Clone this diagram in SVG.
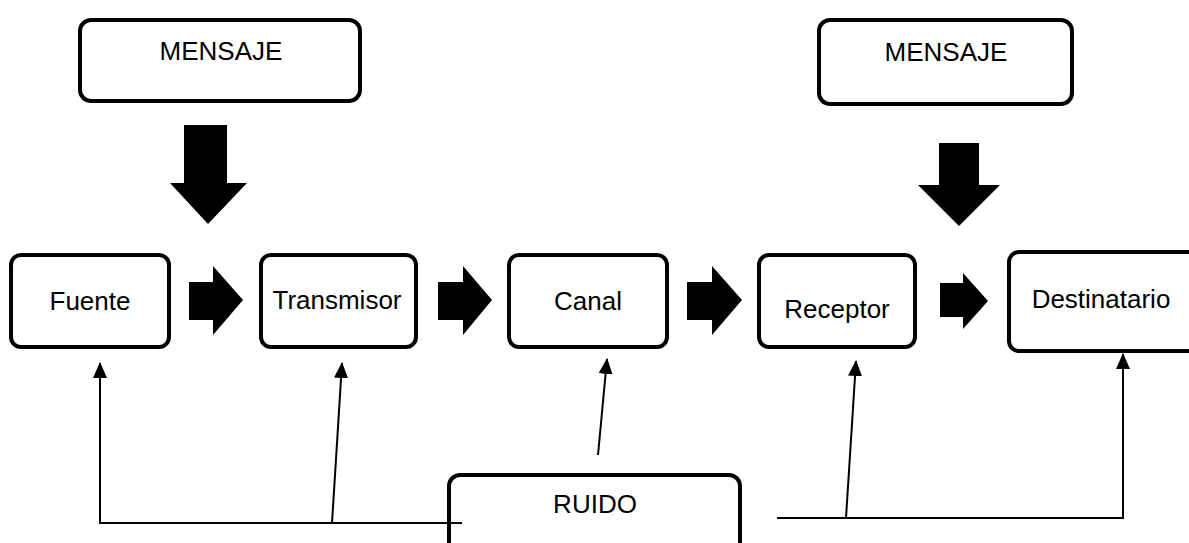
<svg xmlns="http://www.w3.org/2000/svg" width="1189" height="543" viewBox="0 0 1189 543">
<style>
.box{fill:#fff;stroke:#000;stroke-width:4}
.lbl{font-family:"Liberation Sans",Arial,sans-serif;font-size:26px;fill:#000;text-anchor:middle}
.blk{fill:#000;stroke:none}
.ln{fill:none;stroke:#000;stroke-width:2}
</style>
<defs>
<marker id="ah" viewBox="0 0 16 14" refX="15" refY="7" markerWidth="16" markerHeight="14" markerUnits="userSpaceOnUse" orient="auto">
<path d="M0,0 L16,7 L0,14 Z" fill="#000"/>
</marker>
</defs>
<rect width="1189" height="543" fill="#fff"/>
<g id="mensaje1"><rect class="box" x="80" y="20" width="280" height="81" rx="11"/><text class="lbl" x="221" y="60">MENSAJE</text></g>
<g id="mensaje2"><rect class="box" x="819" y="20" width="253" height="84" rx="11"/><text class="lbl" x="946" y="61">MENSAJE</text></g>
<g id="fuente"><rect class="box" x="11" y="255" width="158" height="92" rx="10"/><text class="lbl" x="90" y="310">Fuente</text></g>
<g id="transmisor"><rect class="box" x="261" y="255" width="155" height="92" rx="10"/><text class="lbl" x="337" y="309">Transmisor</text></g>
<g id="canal"><rect class="box" x="509" y="255" width="158" height="92" rx="10"/><text class="lbl" x="588" y="310">Canal</text></g>
<g id="receptor"><rect class="box" x="759" y="255" width="156" height="92" rx="10"/><text class="lbl" x="837" y="318">Receptor</text></g>
<g id="destinatario"><rect class="box" x="1009" y="252" width="200" height="99" rx="10"/><text class="lbl" x="1101" y="308">Destinatario</text></g>
<g id="ruido"><rect class="box" x="449" y="475" width="291" height="90" rx="11"/><text class="lbl" x="595" y="513">RUIDO</text></g>
<g id="connectors">
<path class="blk" d="M184,125 H227 V183 H247 L208,224 L170,183 H184 Z"/>
<path class="blk" d="M939,143 H979 V185 H1000 L959,226 L918,185 H939 Z"/>
<path class="blk" d="M189,282 H213 V266 L243,300 L213,335 V320 H189 Z"/>
<path class="blk" d="M438,282 H463 V266 L492,300 L463,335 V320 H438 Z"/>
<path class="blk" d="M687,282 H712 V266 L742,300 L712,335 V320 H687 Z"/>
<path class="blk" d="M940,283 H963 V273 L988,301 L963,329 V317 H940 Z"/>
<path class="ln" d="M462,523 H100 V363" marker-end="url(#ah)"/>
<path class="ln" d="M332,523 L342,363" marker-end="url(#ah)"/>
<path class="ln" d="M598,455 L607,359" marker-end="url(#ah)"/>
<path class="ln" d="M777,518 H1123 V354" marker-end="url(#ah)"/>
<path class="ln" d="M846,518 L856,361" marker-end="url(#ah)"/>
</g>
</svg>
